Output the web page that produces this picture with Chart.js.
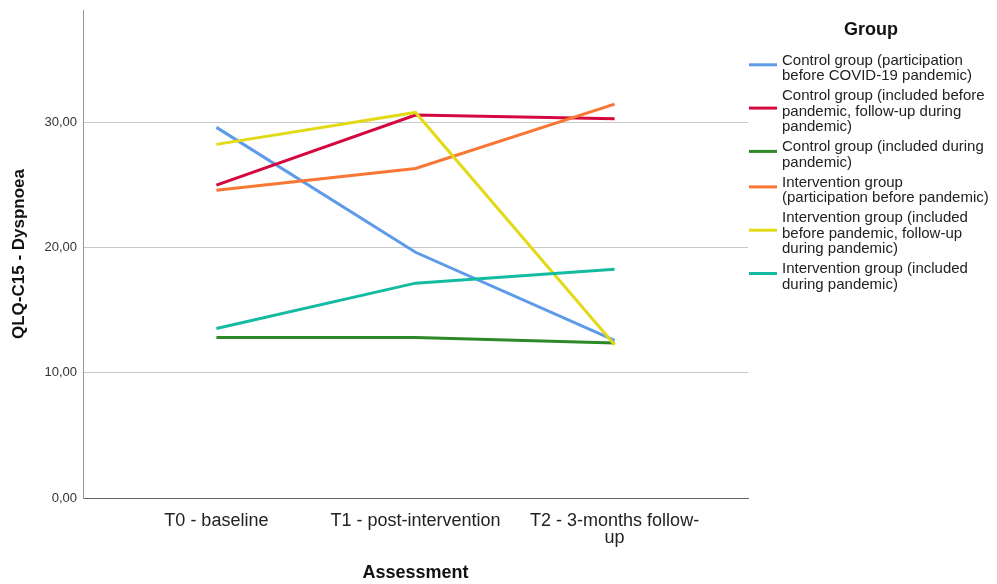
<!DOCTYPE html>
<html>
<head>
<meta charset="utf-8">
<script src="https://cdn.jsdelivr.net/npm/chart.js@4/dist/chart.umd.min.js"></script>
<style>
  html, body { margin: 0; padding: 0; background: #fff; }
  #wrap { width: 997px; height: 584px; }
</style>
</head>
<body>
<div id="wrap"><canvas id="chart" width="997" height="584"></canvas></div>
<script>
// categories on the x axis
var assessments = [["T0 - baseline"], ["T1 - post-intervention"], ["T2 - 3-months follow-", "up"]];
var yTicks = [0, 10, 20, 30];

// legend labels, already wrapped like the original
var groups = [
    ["Control group (participation", "before COVID-19 pandemic)"],
    ["Control group (included before", "pandemic, follow-up during", "pandemic)"],
    ["Control group (included during", "pandemic)"],
    ["Intervention group", "(participation before pandemic)"],
    ["Intervention group (included", "before pandemic, follow-up", "during pandemic)"],
    ["Intervention group (included", "during pandemic)"]
];
var colors = ["#5D9BEA", "#D5073F", "#2B8A27", "#F97634", "#E3DA17", "#14BBA3"];

// mean dyspnoea scores per group at T0, T1, T2
var controlBefore = [29.62, 19.64, 12.60];
var controlBeforeDuring = [25.00, 30.60, 30.30];
var controlDuring = [12.83, 12.83, 12.38];
var interventionBefore = [24.60, 26.34, 31.48];
var interventionBeforeDuring = [28.26, 30.81, 12.24];
var interventionDuring = [13.54, 17.17, 18.28];

var series = [controlBefore, controlBeforeDuring, controlDuring,
    interventionBefore, interventionBeforeDuring, interventionDuring];

var FONT = "Arial, 'Liberation Sans', sans-serif";

var datasets = series.map(function (vals, i) {
    return {
        label: groups[i].join(' '),
        data: vals.map(function (v, j) { return { x: j, y: v }; }),
        borderColor: colors[i],
        backgroundColor: colors[i],
        borderWidth: 3,
        pointRadius: 0,
        tension: 0,
        order: series.length - i
    };
});

var groupLegend = {
    id: 'groupLegend',
    afterDraw: function (chart) {
        var ctx = chart.ctx;
        ctx.save();
        ctx.fillStyle = '#111';
        ctx.font = "bold 18px " + FONT;
        ctx.textAlign = 'center';
        ctx.textBaseline = 'middle';
        ctx.fillText("Group", 871, 30);

        ctx.font = "15px " + FONT;
        ctx.textAlign = 'left';
        var lineH = 15.6, gap = 4.3;
        var y = 60.5;
        groups.forEach(function (lines, i) {
            var top = y;
            lines.forEach(function (t) {
                ctx.fillStyle = '#222';
                ctx.fillText(t, 782, y);
                y += lineH;
            });
            var mid = (top + y - lineH) / 2 - 3.5;
            ctx.strokeStyle = colors[i];
            ctx.lineWidth = 3;
            ctx.beginPath();
            ctx.moveTo(749, mid);
            ctx.lineTo(777, mid);
            ctx.stroke();
            y += gap;
        });
        ctx.restore();
    }
};

var ctx = document.getElementById("chart");
var myChart = new Chart(ctx, {
    type: 'line',
    data: { datasets: datasets },
    options: {
        responsive: false,
        animation: false,
        devicePixelRatio: 1,
        layout: { padding: { left: 0, right: 249, top: 10, bottom: 0 } },
        plugins: {
            legend: { display: false },
            tooltip: { enabled: false }
        },
        scales: {
            x: {
                type: 'linear',
                min: -0.67,
                max: 2.67,
                afterBuildTicks: function (scale) {
                    scale.ticks = assessments.map(function (a, i) { return { value: i }; });
                },
                afterFit: function (scale) { scale.height = 86; },
                grid: { display: false, drawTicks: false },
                border: { display: true, color: '#666', width: 1 },
                ticks: {
                    autoSkip: false,
                    maxRotation: 0,
                    padding: 14,
                    color: '#222',
                    font: { family: FONT, size: 18, lineHeight: 0.95 },
                    callback: function (v) { return assessments[v]; }
                },
                title: {
                    display: true,
                    text: 'Assessment',
                    color: '#111',
                    font: { family: FONT, size: 18, weight: 'bold' },
                    padding: { top: 0, bottom: 0 }
                }
            },
            y: {
                min: 0,
                max: 39,
                afterBuildTicks: function (scale) {
                    scale.ticks = yTicks.map(function (v) { return { value: v }; });
                },
                afterFit: function (scale) {
                    scale.width = 83;
                    scale.paddingTop = 0;
                    scale.paddingBottom = 0;
                },
                grid: { color: '#c8c8c8', lineWidth: 1, drawTicks: false },
                border: { display: true, color: '#999', width: 1 },
                ticks: {
                    padding: 6,
                    color: '#333',
                    font: { family: FONT, size: 13 },
                    callback: function (v) { return v.toFixed(2).replace('.', ','); }
                },
                title: {
                    display: true,
                    text: 'QLQ-C15 - Dyspnoea',
                    color: '#111',
                    font: { family: FONT, size: 17, weight: 'bold' },
                    padding: { top: 9, bottom: 0 }
                }
            }
        }
    },
    plugins: [groupLegend]
});
</script>
</body>
</html>
